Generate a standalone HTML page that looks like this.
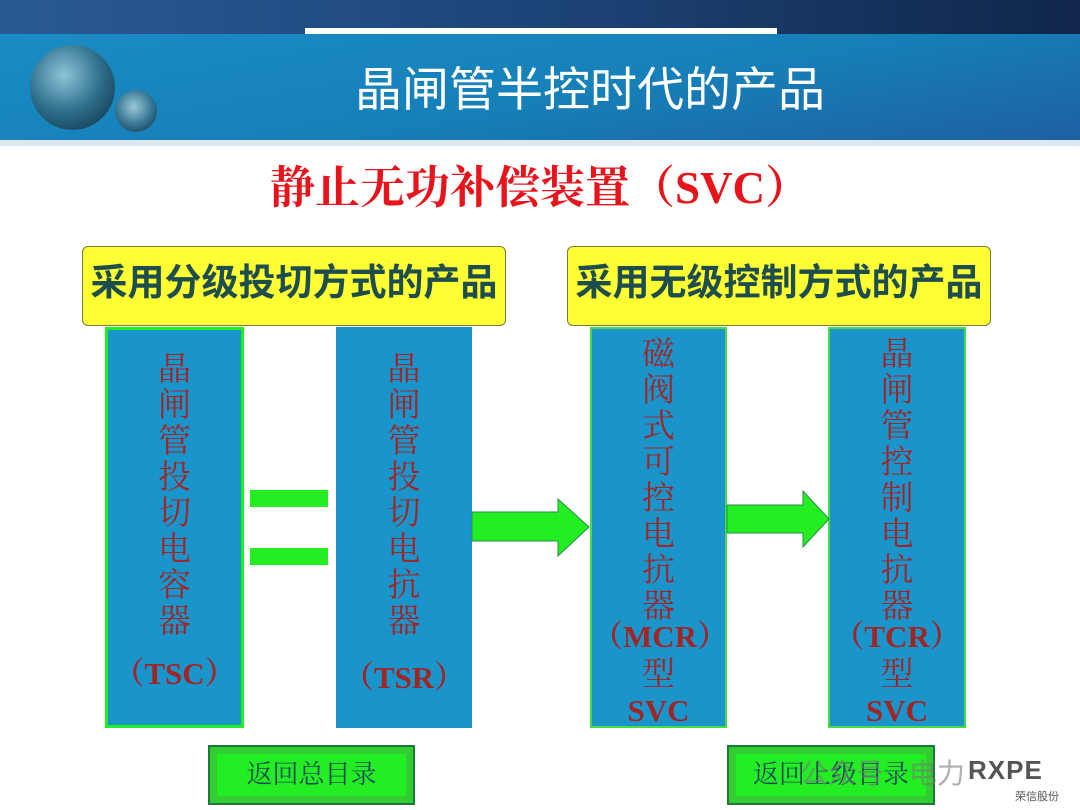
<!DOCTYPE html>
<html><head><meta charset="utf-8"><style>
*{margin:0;padding:0;box-sizing:border-box}
body{width:1080px;height:810px;position:relative;overflow:hidden;background:#fff;font-family:"Liberation Sans","Noto Sans CJK SC",sans-serif}
.a{position:absolute}
.box{position:absolute;background:#1a95cc;top:327px;height:401px}
.c{position:absolute;width:100%;text-align:center;font-family:"Liberation Serif","Noto Serif CJK SC",serif;color:#a02626;font-size:33px;line-height:36px}
.b{font-weight:bold;font-size:31px}
.scroll{position:absolute;background:#ffff33;border:1.5px solid #7a7a40;border-radius:6px;font-size:37px;color:#1d4d4d;font-weight:bold;text-align:center;line-height:66px;white-space:nowrap}
.btn{position:absolute;background:#22ee22;border:2px solid #1a7a3a;box-shadow:inset 0 0 0 7px #33cc33;color:#1a4a5a;font-family:"Liberation Serif","Noto Serif CJK SC",serif;font-size:26px;text-align:center;line-height:56px}
</style></head><body>
<div class="a" style="left:0;top:0;width:1080px;height:34px;background:linear-gradient(90deg,#2a5a94,#1d4478 50%,#10264a)"></div>
<div class="a" style="left:0;top:34px;width:1080px;height:108px;background:linear-gradient(170deg,#1a8cc4 0%,#167fb8 55%,#1e5fa0 100%)"></div>
<div class="a" style="left:0;top:140px;width:1080px;height:6px;background:#dde8ee"></div>
<div class="a" style="left:305px;top:28px;width:472px;height:6px;background:#fff"></div>
<div class="a" style="left:30px;top:45px;width:85px;height:85px;border-radius:50%;background:radial-gradient(circle at 40% 35%,#8cc4d8,#2d6e8a 50%,#0c2a40)"></div>
<div class="a" style="left:115px;top:90px;width:42px;height:42px;border-radius:50%;background:radial-gradient(circle at 45% 40%,#9cc8d8,#3a7a96 50%,#0c2a40)"></div>
<div class="a" style="left:300px;top:62px;width:580px;text-align:center;color:#fff;font-size:47px;line-height:56px;white-space:nowrap">晶闸管半控时代的产品</div>
<div class="a" style="left:0;top:160px;width:1080px;text-align:center;color:#e8141c;font-size:45px;font-weight:bold;line-height:56px;font-family:'Liberation Serif','Noto Serif CJK SC',serif">静止无功补偿装置（SVC）</div>

<div class="scroll" style="left:82px;top:246px;width:424px;height:80px;line-height:72px">采用分级投切方式的产品</div>
<div class="scroll" style="left:567px;top:246px;width:424px;height:80px;line-height:72px">采用无级控制方式的产品</div>

<div class="box" style="left:105px;width:139px;border:3px solid #22ee22">
 <div class="c" style="top:22px">晶<br>闸<br>管<br>投<br>切<br>电<br>容<br>器</div>
 <div class="c b" style="top:326px">（TSC）</div>
</div>
<div class="box" style="left:336px;width:136px">
 <div class="c" style="top:25px">晶<br>闸<br>管<br>投<br>切<br>电<br>抗<br>器</div>
 <div class="c b" style="top:333px">（TSR）</div>
</div>
<div class="box" style="left:590px;width:137px;border:2px solid #44dd44">
 <div class="c" style="top:8px">磁<br>阀<br>式<br>可<br>控<br>电<br>抗<br>器</div>
 <div class="c b" style="top:290px">（MCR）</div>
 <div class="c" style="top:328px">型</div>
 <div class="c b" style="top:364px">SVC</div>
</div>
<div class="box" style="left:828px;width:138px;border:2px solid #44dd44">
 <div class="c" style="top:8px">晶<br>闸<br>管<br>控<br>制<br>电<br>抗<br>器</div>
 <div class="c b" style="top:290px">（TCR）</div>
 <div class="c" style="top:328px">型</div>
 <div class="c b" style="top:364px">SVC</div>
</div>

<div class="a" style="left:250px;top:490px;width:78px;height:17px;background:#22ee22"></div>
<div class="a" style="left:250px;top:548px;width:78px;height:17px;background:#22ee22"></div>
<svg class="a" style="left:0;top:0" width="1080" height="810">
<polygon points="472,512 558,512 558,499 589,527 558,556 558,541 472,541" fill="#22ee22" stroke="#2a8a4a" stroke-width="1"/>
<polygon points="727,505 803,505 803,491 829,519 803,547 803,533 727,533" fill="#22ee22" stroke="#2a8a4a" stroke-width="1"/>
</svg>

<div class="btn" style="left:208px;top:745px;width:207px;height:60px">返回总目录</div>
<div class="btn" style="left:727px;top:745px;width:208px;height:60px">返回上级目录</div>
<div class="a" style="left:800px;top:752px;color:rgba(120,120,120,0.6);font-size:28px">公众号 · 电力</div>
<div class="a" style="left:968px;top:755px;color:#555;font-size:26px;font-weight:bold;letter-spacing:1px">RXPE</div>
<div class="a" style="left:1015px;top:788px;color:#555;font-size:11px">荣信股份</div>
</body></html>
